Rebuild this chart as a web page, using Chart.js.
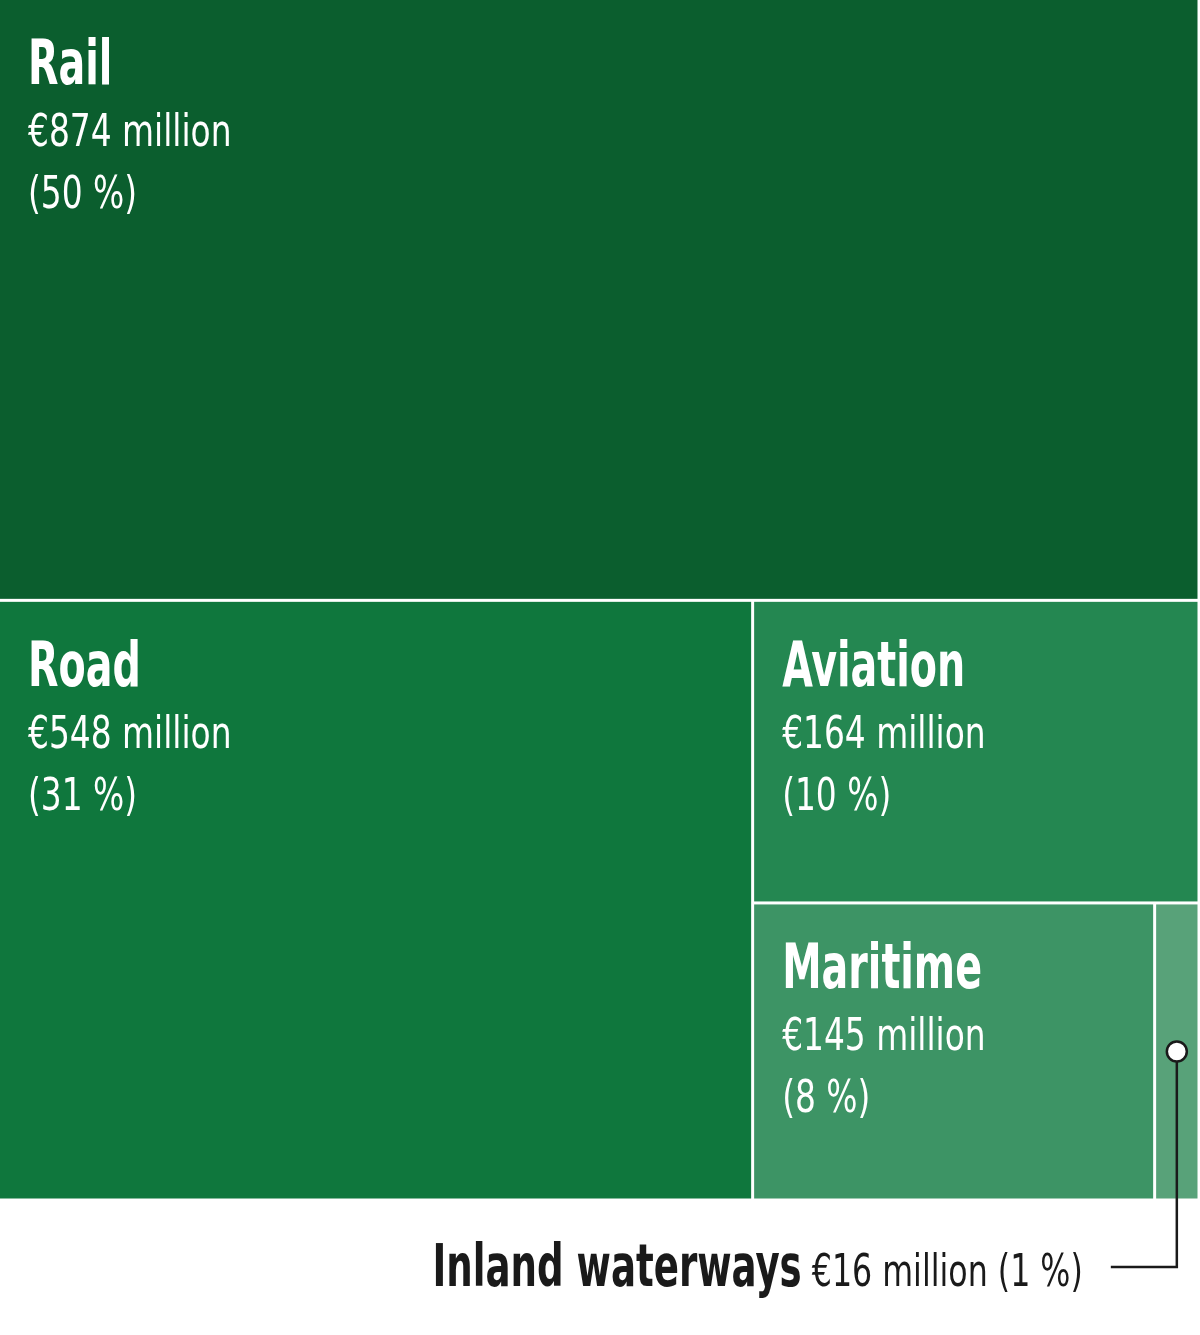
<!DOCTYPE html>
<html>
<head>
<meta charset="utf-8">
<script src="https://cdn.jsdelivr.net/npm/chart.js@4.4.1/dist/chart.umd.min.js"></script>
<style>
    html, body { margin: 0; padding: 0; background: #ffffff; }
    #wrap { width: 1200px; height: 1335px; position: relative; }
</style>
</head>
<body>
<div id="wrap"><canvas id="treemap"></canvas></div>
<script>
// transport spending, million euro
const categories = ["Rail", "Road", "Aviation", "Maritime", "Inland waterways"];
const values = [874, 548, 164, 145, 16];
const valueLabels = ["€874 million", "€548 million", "€164 million", "€145 million", "€16 million"];
const shareLabels = ["(50 %)", "(31 %)", "(10 %)", "(8 %)", "(1 %)"];
const colours = ["#0b5e2e", "#0f773d", "#248751", "#3d9465", "#58a279"];

const FONT = "'DejaVu Sans Condensed', 'Liberation Sans Narrow', sans-serif";
// the original face is much narrower, so squeeze text horizontally
const BOLD_SQUEEZE = 0.71;
const REG_SQUEEZE = 0.83;

// slice along the longer side, each item takes its share of what is left
function layoutTreemap(vals, W, H) {
    let rects = [];
    let x = 0, y = 0, w = 1, h = 1;
    let rest = vals.reduce((a, b) => a + b, 0);
    for (let i = 0; i < vals.length; i++) {
        if (i == vals.length - 1) {
            rects.push({x0: x, y0: y, x1: x + w, y1: y + h});
            break;
        }
        let share = vals[i] / rest;
        if (w * W >= h * H) {
            rects.push({x0: x, y0: y, x1: x + w * share, y1: y + h});
            x += w * share;
            w -= w * share;
        } else {
            rects.push({x0: x, y0: y, x1: x + w, y1: y + h * share});
            y += h * share;
            h -= h * share;
        }
        rest -= vals[i];
    }
    return rects;
}

function squeezedText(ctx, text, x, y, font, sx) {
    ctx.save();
    ctx.font = font;
    ctx.translate(x, y);
    ctx.scale(sx, 1);
    ctx.fillText(text, 0, 0);
    ctx.restore();
}

function squeezedWidth(ctx, text, font, sx) {
    ctx.save();
    ctx.font = font;
    let w = ctx.measureText(text).width * sx;
    ctx.restore();
    return w;
}

const treemapPlugin = {
    id: "treemapPlugin",
    afterDatasetsDraw(chart) {
        let ctx = chart.ctx;
        let area = chart.chartArea;
        let xs = chart.scales.x;
        let ys = chart.scales.y;
        let rects = layoutTreemap(values, area.right - area.left, area.bottom - area.top);
        let gap = 3;
        let boldFont = "bold 62px " + FONT;
        let regFont = "44px " + FONT;
        ctx.save();
        let boxes = [];
        for (let i = 0; i < rects.length; i++) {
            let r = rects[i];
            let left = xs.getPixelForValue(r.x0);
            let right = xs.getPixelForValue(r.x1);
            let top = ys.getPixelForValue(r.y0);
            let bottom = ys.getPixelForValue(r.y1);
            if (r.x0 > 0) left += gap / 2;
            if (r.y0 > 0) top += gap / 2;
            right -= gap / 2;
            bottom -= gap / 2;
            boxes.push({left, right, top, bottom});
            ctx.fillStyle = colours[i];
            ctx.fillRect(left, top, right - left, bottom - top);
        }
        // labels inside the big boxes
        ctx.fillStyle = "#ffffff";
        ctx.textAlign = "left";
        ctx.textBaseline = "alphabetic";
        for (let i = 0; i < boxes.length - 1; i++) {
            let b = boxes[i];
            squeezedText(ctx, categories[i], b.left + 28, b.top + 84, boldFont, BOLD_SQUEEZE);
            squeezedText(ctx, valueLabels[i], b.left + 28, b.top + 146, regFont, REG_SQUEEZE);
            squeezedText(ctx, shareLabels[i], b.left + 28, b.top + 208, regFont, REG_SQUEEZE);
        }
        // callout for the smallest box
        let last = boxes.length - 1;
        let b = boxes[last];
        let cx = (b.left + b.right) / 2;
        let cy = (b.top + b.bottom) / 2;
        let lineY = area.bottom + 67;
        let lineX = cx - 66;
        ctx.strokeStyle = "#1a1a1a";
        ctx.lineWidth = 2.5;
        ctx.beginPath();
        ctx.moveTo(cx, cy);
        ctx.lineTo(cx, lineY);
        ctx.lineTo(lineX, lineY);
        ctx.stroke();
        ctx.beginPath();
        ctx.arc(cx, cy, 10, 0, Math.PI * 2);
        ctx.fillStyle = "#ffffff";
        ctx.fill();
        ctx.stroke();

        let textRight = lineX - 28;
        let baseY = area.bottom + 86;
        let tail = " " + valueLabels[last] + " " + shareLabels[last];
        let calloutBold = "bold 59px " + FONT;
        let calloutReg = "44px " + FONT;
        let tailW = squeezedWidth(ctx, tail, calloutReg, 0.8);
        let headW = squeezedWidth(ctx, categories[last], calloutBold, 0.70);
        ctx.fillStyle = "#1a1a1a";
        squeezedText(ctx, tail, textRight - tailW, baseY, calloutReg, 0.8);
        squeezedText(ctx, categories[last], textRight - tailW - headW, baseY, calloutBold, 0.70);
        ctx.restore();
    }
};

let ctx = document.getElementById("treemap").getContext("2d");
let chart = new Chart(ctx, {
    type: "scatter",
    data: {
        labels: categories,
        datasets: [{
            data: [],
            pointRadius: 0
        }]
    },
    options: {
        responsive: true,
        maintainAspectRatio: false,
        animation: false,
        layout: {padding: {left: 0, top: 0, right: 1, bottom: 135}},
        plugins: {legend: {display: false}, tooltip: {enabled: false}},
        scales: {
            x: {type: "linear", min: 0, max: 1, display: false},
            y: {type: "linear", min: 0, max: 1, reverse: true, display: false}
        }
    },
    plugins: [treemapPlugin]
});
</script>
</body>
</html>
